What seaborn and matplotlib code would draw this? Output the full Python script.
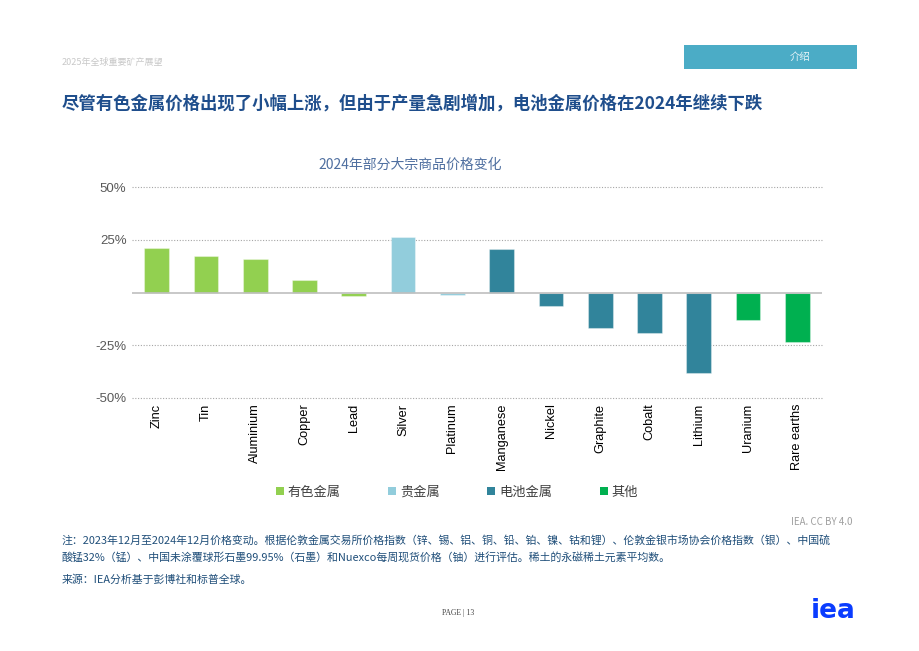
import matplotlib
matplotlib.use('Agg')
import matplotlib.pyplot as plt
import seaborn as sns
import pandas as pd
from matplotlib.patches import Rectangle, Patch

# Data
commodities = ['Zinc', 'Tin', 'Aluminium', 'Copper', 'Lead', 'Silver', 'Platinum',
               'Manganese', 'Nickel', 'Graphite', 'Cobalt', 'Lithium', 'Uranium', 'Rare earths']
price_change = [20.9, 17.4, 16.0, 6.0, -1.7, 26.4, -1.3,
                20.6, -6.2, -16.9, -19.1, -38.1, -13.0, -23.6]
groups = ['有色金属'] * 5 + ['贵金属'] * 2 + ['电池金属'] * 5 + ['其他'] * 2
group_order = ['有色金属', '贵金属', '电池金属', '其他']
group_colors = ['#92D050', '#92CDDC', '#31849B', '#00B050']
yticks = [-50, -25, 0, 25, 50]
ytick_labels = ['-50%', '-25%', '', '25%', '50%']

df = pd.DataFrame({'commodity': commodities, 'change': price_change, 'group': groups})

sns.set_style('white')
plt.rcParams['font.family'] = ['Noto Sans CJK SC', 'DejaVu Sans']

fig = plt.figure(figsize=(9.2, 6.51), dpi=100)
W, H = 920, 651


def fx(x):
    return x / W


def fy(y):
    return 1 - y / H


ax = fig.add_axes([fx(132), fy(398), fx(822) - fx(132), fy(187) - fy(398)])

palette = dict(zip(group_order, group_colors))
sns.barplot(data=df, x='commodity', y='change', hue='group', hue_order=group_order,
            palette=palette, dodge=False, width=0.5, saturation=1, legend=False, ax=ax,
            edgecolor=(1, 1, 1, 0.35), linewidth=0.8)

ax.set_ylim(-50, 50)
ax.set_xlim(-0.5, len(commodities) - 0.5)
ax.set_yticks(yticks)
ax.set_yticklabels(ytick_labels, color='#595959', fontsize=9.5, family=['Liberation Sans', 'DejaVu Sans'])
for v in [-50, -25, 25, 50]:
    ax.axhline(v, color='#A6A6A6', linestyle=(0, (1, 1.5)), linewidth=0.8, zorder=0,
               clip_on=False)
ax.axhline(0, color='#BFBFBF', linewidth=1.2, zorder=1)
for s in ax.spines.values():
    s.set_visible(False)
ax.tick_params(axis='both', length=0, pad=4)
ax.set_xticks(range(len(commodities)))
ax.set_xticklabels(commodities, rotation=90, va='top', ha='center', fontsize=9.2,
                   color='#000000', family=['Liberation Sans', 'DejaVu Sans'])
ax.set_xlabel('')
ax.set_ylabel('')

# Legend
handles = [Patch(facecolor=c, edgecolor='none') for c in group_colors]
fig.legend(handles, group_order, loc='center', bbox_to_anchor=(fx(457), fy(492)), ncol=4,
           frameon=False, fontsize=9.5, handlelength=0.6, handleheight=0.6,
           handletextpad=0.3, columnspacing=3.6, labelcolor='#404040')

# Chart title
fig.text(fx(410), fy(165), '2024年部分大宗商品价格变化', ha='center', va='center',
         fontsize=10, color='#4F6FA0')

# Page header
fig.text(fx(62), fy(62), '2025年全球重要矿产展望', ha='left', va='center',
         fontsize=6.5, color='#C8C8C8')
fig.patches.append(Rectangle((fx(684), fy(69)), fx(857) - fx(684), fy(45) - fy(69),
                             transform=fig.transFigure, facecolor='#4BACC6',
                             edgecolor='none'))
fig.text(fx(800), fy(57), '介绍', ha='center', va='center', fontsize=7.5, color='#E8F4F8')
fig.text(fx(62), fy(104), '尽管有色金属价格出现了小幅上涨，但由于产量急剧增加，电池金属价格在2024年继续下跌',
         ha='left', va='center', fontsize=12.5, fontweight='bold', color='#1F4E8C')

# Footer
fig.text(fx(853), fy(522), 'IEA. CC BY 4.0', ha='right', va='center', fontsize=7,
         color='#A0A0A0')
note_color = '#1F4E79'
fig.text(fx(62), fy(540), '注：2023年12月至2024年12月价格变动。根据伦敦金属交易所价格指数（锌、锡、铝、铜、铅、铂、镍、钴和锂）、伦敦金银市场协会价格指数（银）、中国硫',
         ha='left', va='center', fontsize=7.85, color=note_color)
fig.text(fx(62), fy(557), '酸锰32%（锰）、中国未涂覆球形石墨99.95%（石墨）和Nuexco每周现货价格（铀）进行评估。稀土的永磁稀土元素平均数。',
         ha='left', va='center', fontsize=7.85, color=note_color)
fig.text(fx(62), fy(580), '来源：IEA分析基于彭博社和标普全球。', ha='left', va='center',
         fontsize=7.85, color=note_color)
fig.text(fx(442), fy(613), 'PAGE | 13', ha='left', va='center', fontsize=5.5, color='#404040',
         family=['Liberation Serif', 'DejaVu Serif'])
fig.text(fx(833), fy(611), 'iea', ha='center', va='center', fontsize=19, fontweight='bold',
         color='#0A3CFF', family=['DejaVu Sans'])

fig.savefig('out.png', dpi=100)
